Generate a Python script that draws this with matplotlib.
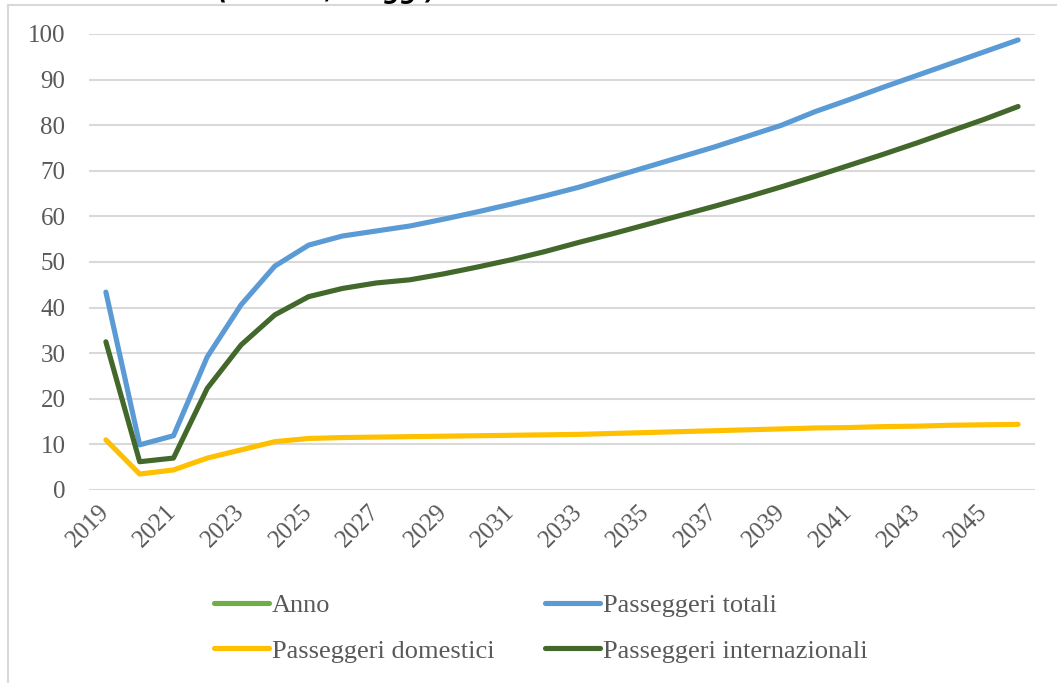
import matplotlib
matplotlib.use('Agg')
import matplotlib.pyplot as plt
import matplotlib.transforms as mtransforms
from matplotlib.lines import Line2D

plt.rcParams['font.family'] = ['Liberation Serif', 'DejaVu Serif']

anni = list(range(2019, 2047))

totali = [43.4, 9.9, 11.9, 29.2, 40.6, 49.1, 53.7, 55.7, 56.8, 57.9,
          59.4, 61.0, 62.7, 64.5, 66.4, 68.6, 70.8, 73.0, 75.2, 77.6,
          80.0, 83.0, 85.6, 88.3, 90.9, 93.5, 96.1, 98.7]

internazionali = [32.5, 6.2, 7.0, 22.3, 31.8, 38.4, 42.4, 44.2, 45.4, 46.1,
                  47.4, 48.9, 50.5, 52.3, 54.3, 56.2, 58.2, 60.2, 62.2, 64.3,
                  66.5, 68.8, 71.2, 73.6, 76.1, 78.7, 81.3, 84.1]

domestici = [11.0, 3.5, 4.4, 7.0, 8.8, 10.6, 11.3, 11.5, 11.6, 11.7,
             11.8, 11.9, 12.0, 12.1, 12.2, 12.4, 12.6, 12.8, 13.0, 13.2,
             13.4, 13.6, 13.7, 13.9, 14.0, 14.2, 14.3, 14.4]

c_anno = '#70AD47'
c_tot = '#5B9BD5'
c_dom = '#FFC000'
c_int = '#43682B'
grey = '#595959'

fig = plt.figure(figsize=(10.57, 6.83), dpi=100)
ax = fig.add_axes([89 / 1057, 1 - 490 / 683, 946 / 1057, 456 / 683])

x = list(range(len(anni)))
lw = 3.7
kw = dict(lw=lw, solid_capstyle='round', solid_joinstyle='round')
ax.plot(x, totali, color=c_tot, **kw)
ax.plot(x, domestici, color=c_dom, **kw)
ax.plot(x, internazionali, color=c_int, **kw)

ax.set_xlim(-0.5, len(anni) - 0.5)
ax.set_ylim(0, 100)
ax.set_yticks(range(0, 101, 10))
ax.grid(axis='y', color='#D9D9D9', lw=1.5)
ax.set_axisbelow(True)
for s in ax.spines.values():
    s.set_visible(False)

ax.set_xticks(x[::2])
ax.set_xticklabels([str(a) for a in anni[::2]], rotation=45, ha='right', va='center',
                   rotation_mode='anchor', fontsize=18, color=grey)
shift = mtransforms.ScaledTranslation(3 / 100, 0, fig.dpi_scale_trans)
for lab in ax.get_xticklabels():
    lab.set_transform(lab.get_transform() + shift)
ax.tick_params(axis='x', length=0, pad=13)
ax.tick_params(axis='y', length=0, pad=17, labelsize=18, labelcolor=grey)

# legend filled by column: Anno / domestici, then totali / internazionali
handles = [Line2D([], [], color=c_anno, **kw),
           Line2D([], [], color=c_dom, **kw),
           Line2D([], [], color=c_tot, **kw),
           Line2D([], [], color=c_int, **kw)]
labels = ['Anno', 'Passeggeri domestici', 'Passeggeri totali', 'Passeggeri internazionali']
leg = fig.legend(handles, labels, ncol=2, loc='center left',
                 bbox_to_anchor=(190 / 1057, 1 - 628 / 683), frameon=False,
                 fontsize=19, handlelength=2.1, handletextpad=0.1,
                 columnspacing=1.9, labelspacing=0.85)
for t in leg.get_texts():
    t.set_color(grey)

# chart frame (clipped at right and bottom)
fig.add_artist(Line2D([8 / 1057, 8 / 1057], [0, 1 - 5 / 683], color='#D9D9D9', lw=1.5))
fig.add_artist(Line2D([8 / 1057, 1], [1 - 5 / 683, 1 - 5 / 683], color='#D9D9D9', lw=1.5))

# title cut off at the top edge
fig.text(218 / 1057, 1 + 1 / 683, '(milioni / viaggi)', fontsize=17,
         fontweight='bold', style='italic', family='DejaVu Sans', va='baseline')

fig.savefig('out.png', dpi=100)
